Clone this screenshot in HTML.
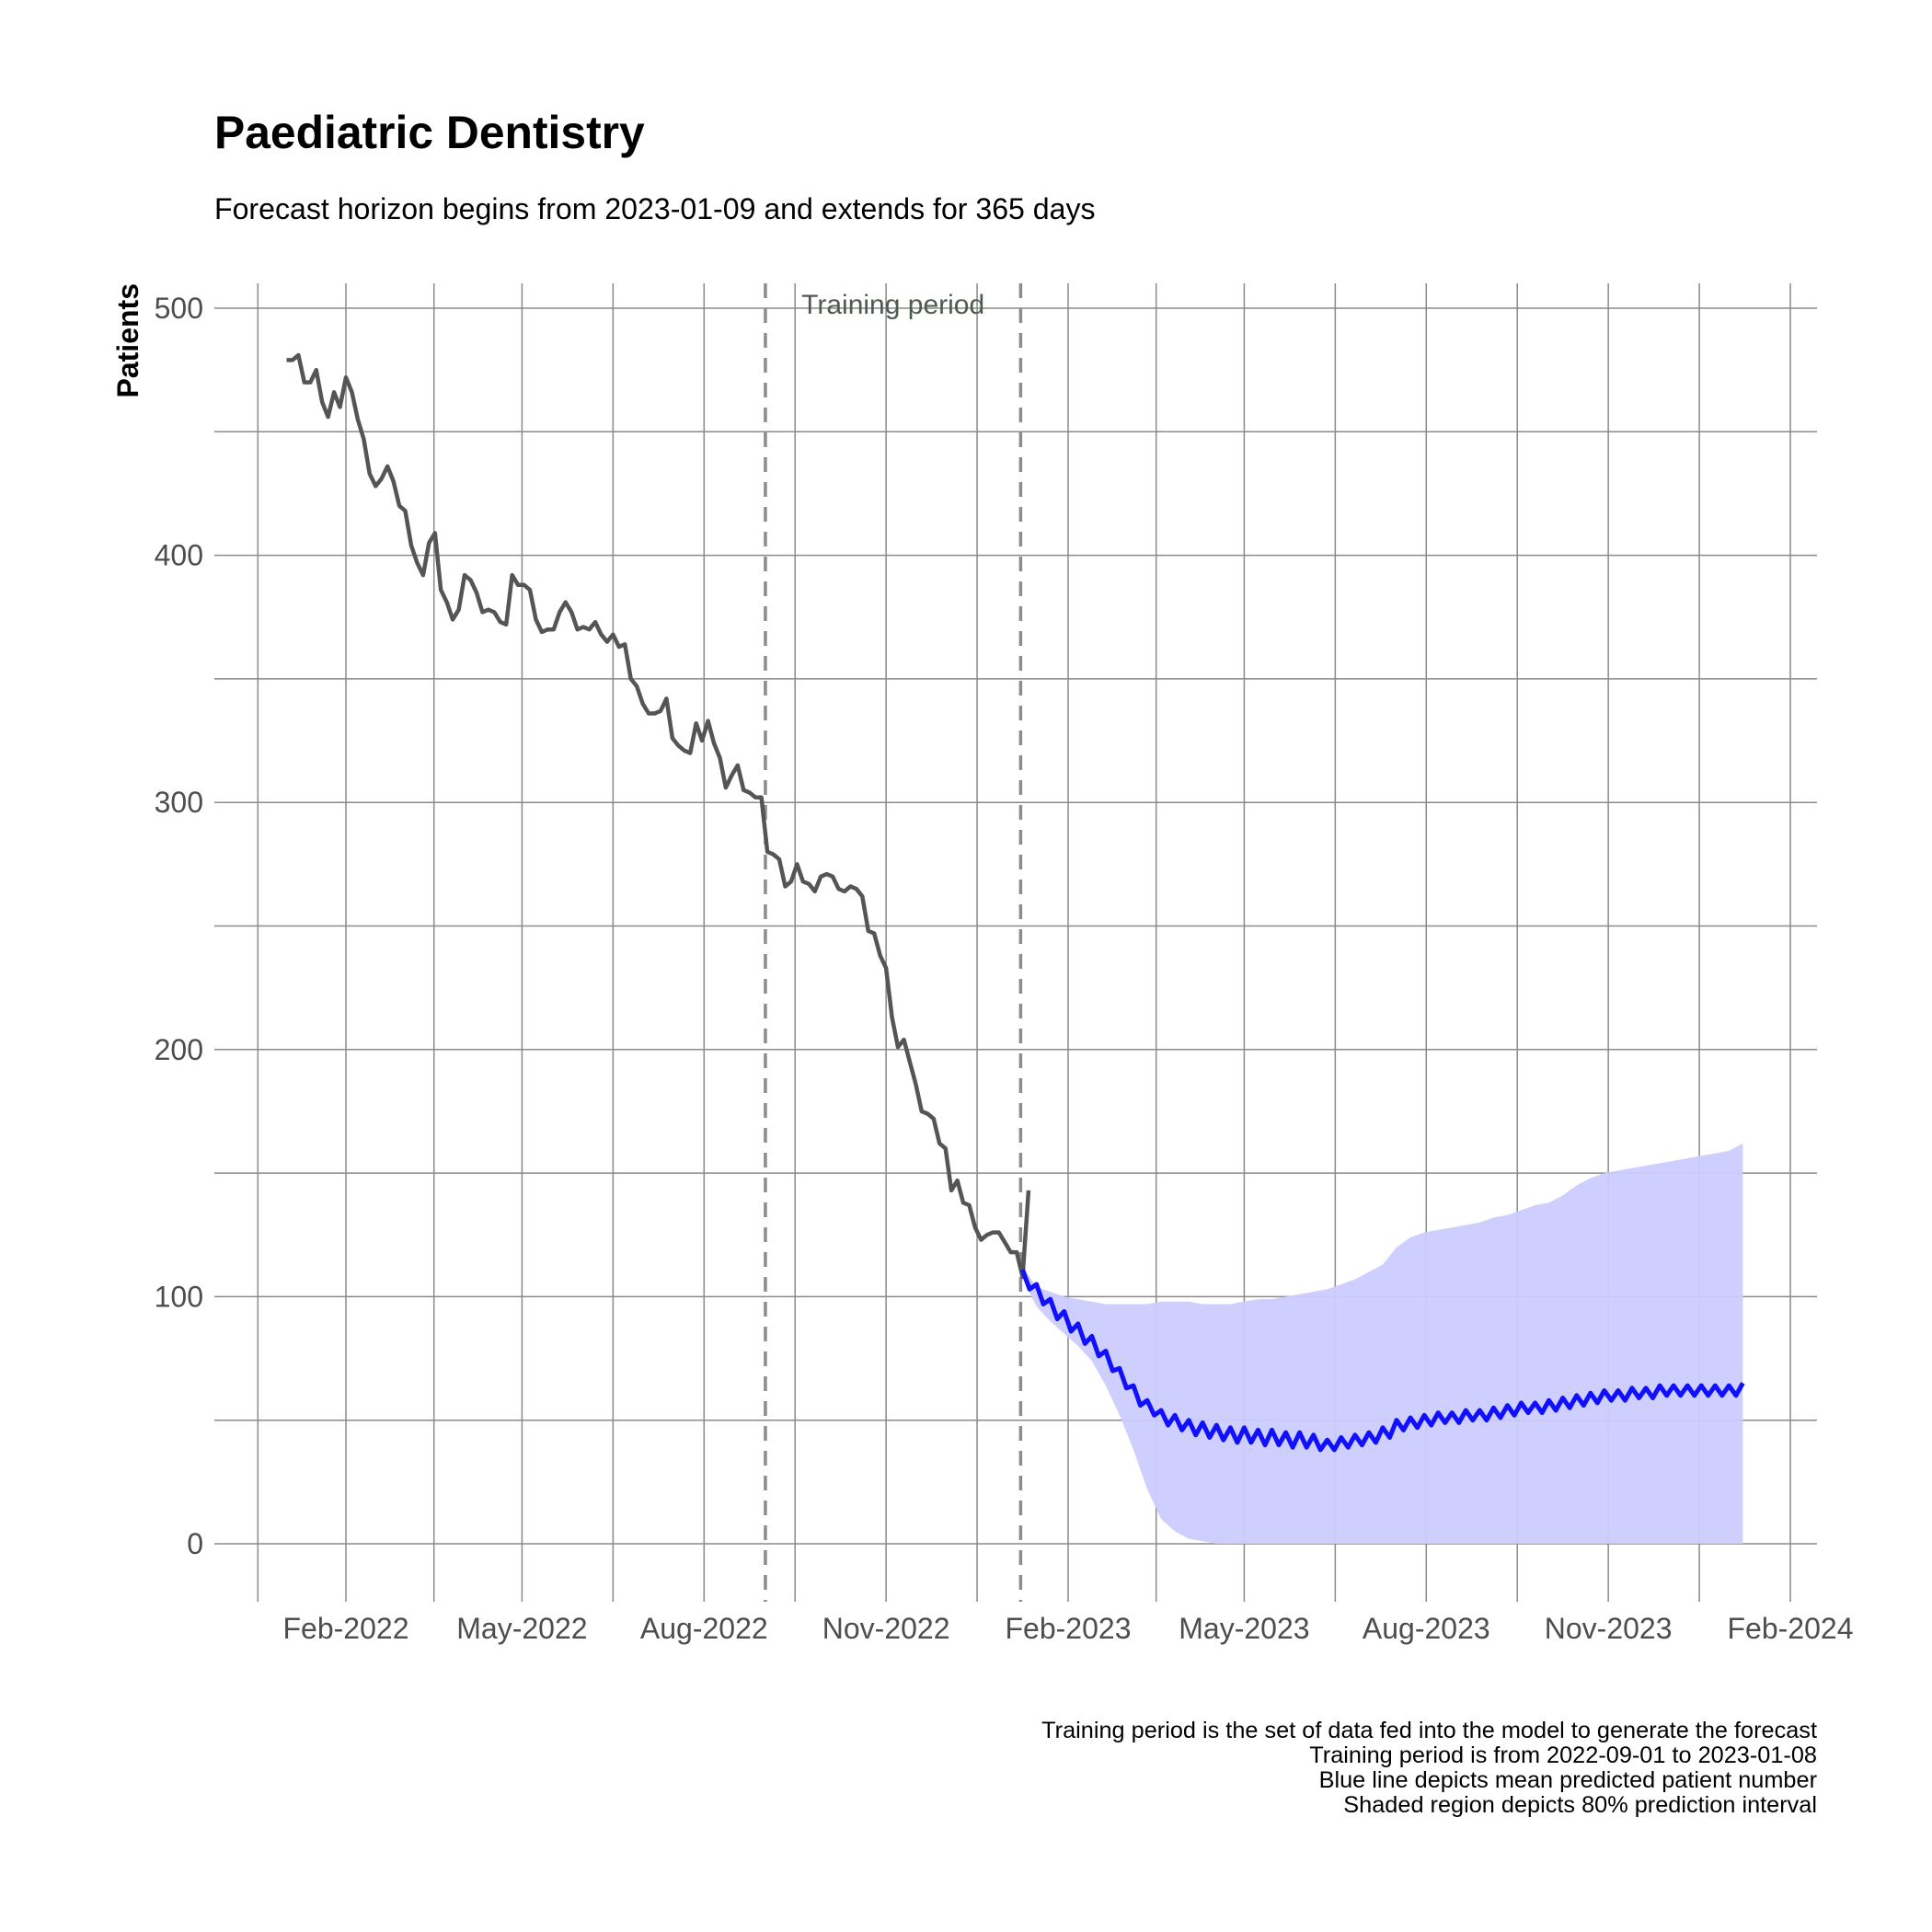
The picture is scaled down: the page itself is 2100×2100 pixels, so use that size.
<!DOCTYPE html>
<html><head><meta charset="utf-8"><title>Paediatric Dentistry forecast</title>
<style>html,body{margin:0;padding:0;background:#fff}svg{display:block}text{font-family:"Liberation Sans",Arial,sans-serif}</style>
</head><body>
<svg id="chart" width="2100" height="2100" viewBox="0 0 2100 2100" xmlns="http://www.w3.org/2000/svg">
<rect width="2100" height="2100" fill="#fff"/>
<g id="grid"></g>
<g id="marks"></g>
<g id="axes"></g>
<text x="233" y="161" font-size="49.8" font-weight="bold" fill="#000">Paediatric Dentistry</text>
<text x="233" y="238" font-size="32.1" fill="#000">Forecast horizon begins from 2023-01-09 and extends for 365 days</text>
<text transform="translate(150,308) rotate(-90)" text-anchor="end" font-size="32" font-weight="bold" fill="#000">Patients</text>
<g font-size="25.3" fill="#000" text-anchor="end">
<text x="1975" y="1889">Training period is the set of data fed into the model to generate the forecast</text>
<text x="1975" y="1916">Training period is from 2022-09-01 to 2023-01-08</text>
<text x="1975" y="1943">Blue line depicts mean predicted patient number</text>
<text x="1975" y="1970">Shaded region depicts 80% prediction interval</text>
</g>
</svg>
<script>
// ---- data ----
const histStart = "2022-01-02";
const histStepDays = 3;
const histValues = [479,479,481,470,470,475,462,456,466,460,472,466,455,447,433,428,431,436,430,420,418,404,397,392,405,409,386,381,374,378,392,390,385,377,378,377,373,372,392,388,388,386,374,369,370,370,377,381,377,370,371,370,373,368,365,368,363,364,350,347,340,336,336,337,342,326,323,321,320,332,325,333,324,318,306,311,315,305,304,302,302,280,279,277,266,268,275,268,267,264,270,271,270,265,264,266,265,262,248,247,238,233,213,201,204,195,186,175,174,172,162,160,143,147,138,137,128,123,125,126,126,122,118,118,108,143];
const fcStart = "2023-01-09";
const fcMean = [111,103,105,97,99,91,94,86,89,81,84,76,78,70,71,63,64,56,58,52,54,48,52,46,50,44,49,43,48,42,47,41,47,41,46,40,46,40,45,39,45,39,44,38,42,38,43,39,44,40,45,41,47,43,50,46,51,47,52,48,53,49,53,49,54,50,54,50,55,51,56,52,57,53,57,53,58,54,59,55,60,56,61,57,62,58,62,58,63,59,63,59,64,60,64,60,64,60,64,60,64,60,64,60,65];
const fcUpper = [112,104,102,100,99,98,97,97,97,97,98,98,98,97,97,97,98,99,99,100,101,102,103,105,107,110,113,120,124,126,127,128,129,130,132,133,135,137,138,141,145,148,150,151,152,153,154,155,156,157,158,159,162];
const fcLower = [107,96,90,85,80,74,64,52,38,22,10,5,2,1,0,0,0,0,0,0,0,0,0,0,0,0,0,0,0,0,0,0,0,0,0,0,0,0,0,0,0,0,0,0,0,0,0,0,0,0,0,0,0];
const yTicks = [0,100,200,300,400,500];
const yMinor = [50,150,250,350,450];
const xTickDates = ["2022-02-01","2022-05-01","2022-08-01","2022-11-01","2023-02-01","2023-05-01","2023-08-01","2023-11-01","2024-02-01"];
const xTickLabels = ["Feb-2022","May-2022","Aug-2022","Nov-2022","Feb-2023","May-2023","Aug-2023","Nov-2023","Feb-2024"];
const trainingDates = ["2022-09-01","2023-01-08"];

// ---- scales ----
const DAY = 86400000;
const d0 = Date.parse("2022-02-01"), d1 = Date.parse("2024-02-01");
const PX0 = 376, PX1 = 1946, PL = 233, PR = 1975, PT = 308, PB = 1741;
function x(date){ const t = typeof date === "number" ? date : Date.parse(date); return PX0 + (t - d0)/(d1 - d0)*(PX1 - PX0); }
function y(v){ return 1678 - v*(1678-335)/500; }
const NS = "http://www.w3.org/2000/svg";
function mk(tag, attrs, parent){ const e = document.createElementNS(NS, tag); for (const k in attrs) e.setAttribute(k, attrs[k]); parent.appendChild(e); return e; }
const grid = document.getElementById("grid"), marks = document.getElementById("marks"), axes = document.getElementById("axes");

yTicks.concat(yMinor).forEach(v => {
  const l = mk("line", {x1:PL, x2:PR, y1:y(v), y2:y(v), stroke:"#8a8a8a", "stroke-width":1.5}, grid);
  
  
});
const tickTimes = xTickDates.map(d => Date.parse(d));
const minorTimes = [tickTimes[0] - (tickTimes[1]-tickTimes[0])/2];
for (let i=0;i<tickTimes.length-1;i++) minorTimes.push((tickTimes[i]+tickTimes[i+1])/2);
tickTimes.concat(minorTimes).forEach(t => {
  const l = mk("line", {x1:x(t), x2:x(t), y1:PT, y2:PB, stroke:"#8a8a8a", "stroke-width":1.5}, grid);
  
  
});

const fs = Date.parse(fcStart);
let bp = "";
fcUpper.forEach((v,i) => { bp += (i?"L":"M") + x(fs + i*7*DAY).toFixed(1) + "," + y(v).toFixed(1); });
for (let i=fcLower.length-1;i>=0;i--) bp += "L" + x(fs + i*7*DAY).toFixed(1) + "," + y(fcLower[i]).toFixed(1);
const band = mk("path", {d: bp + "Z", fill:"#ccccff", "fill-opacity":0.95}, marks);



trainingDates.forEach(d => {
  const l = mk("line", {x1:x(d), x2:x(d), y1:PT, y2:PB, stroke:"#8c8c8c", "stroke-width":3.5, "stroke-dasharray":"16,11"}, marks);
  
  
});
const tl = mk("text", {x:(x(trainingDates[0])+x(trainingDates[1]))/2, y:341, "text-anchor":"middle", "font-size":30, fill:"#4f5a4f"}, marks);
tl.textContent = "Training period";



const hs = Date.parse(histStart);
let hp = "";
histValues.forEach((v,i) => { hp += (i?"L":"M") + x(hs + i*histStepDays*DAY).toFixed(1) + "," + y(v).toFixed(1); });
const hl = mk("path", {d:hp, fill:"none", stroke:"#555555", "stroke-width":4.5, "stroke-linejoin":"round"}, marks);



let mp = "";
fcMean.forEach((v,i) => { mp += (i?"L":"M") + x(fs + i*3.5*DAY).toFixed(1) + "," + y(v).toFixed(1); });
const ml = mk("path", {d:mp, fill:"none", stroke:"#1010ff", "stroke-width":5, "stroke-linejoin":"round"}, marks);



yTicks.forEach(v => {
  const t = mk("text", {x:221, y:y(v)+11, "text-anchor":"end", "font-size":32, fill:"#4d4d4d"}, axes);
  t.textContent = String(v);
  
  
});
xTickDates.forEach((d,i) => {
  const t = mk("text", {x:x(d), y:1781, "text-anchor":"middle", "font-size":32, fill:"#4d4d4d"}, axes);
  t.textContent = xTickLabels[i];
  
  
});
</script>
</body></html>
